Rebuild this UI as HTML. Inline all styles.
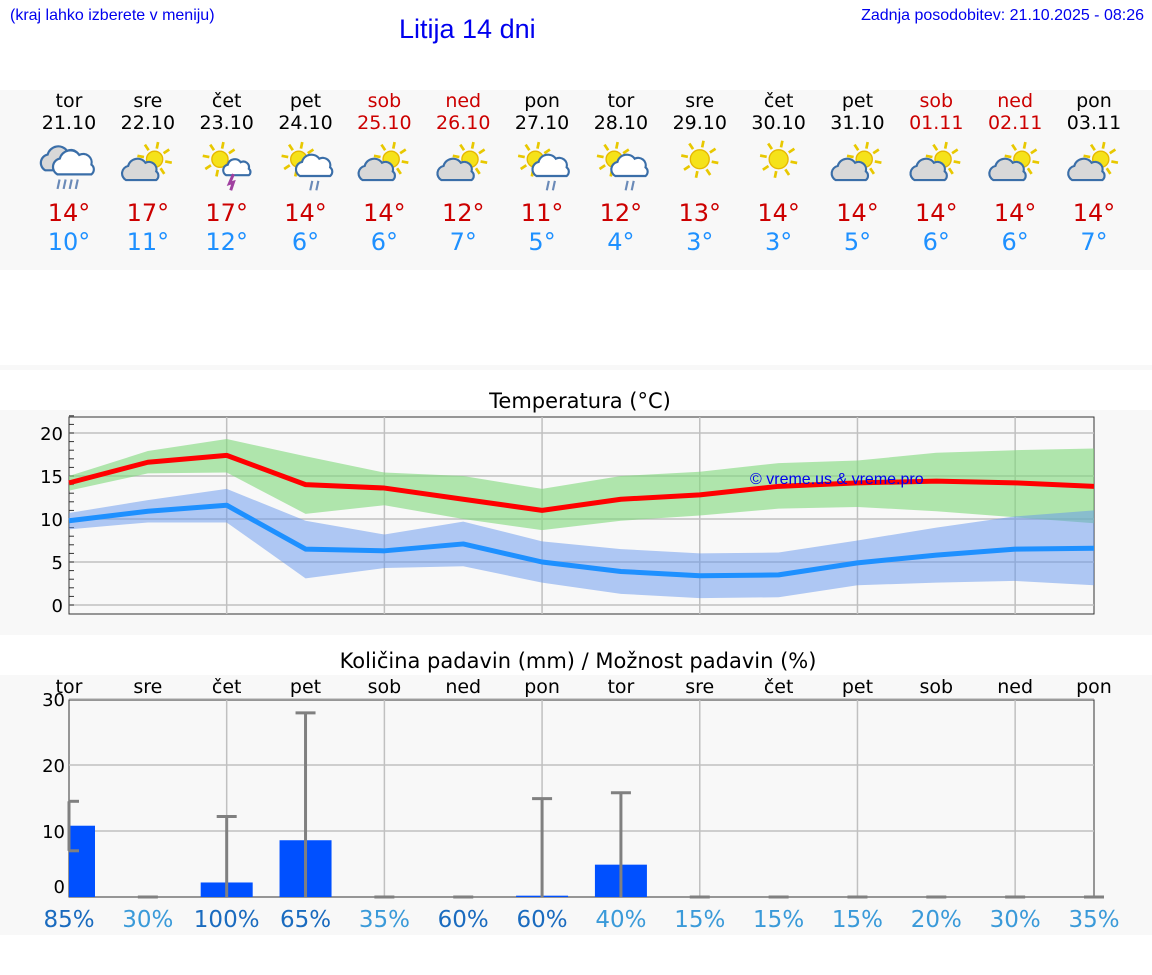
<!DOCTYPE html>
<html><head><meta charset="utf-8">
<style>
body{margin:0;width:1152px;height:975px;background:#fff;font-family:"DejaVu Sans","Liberation Sans",sans-serif;position:relative;overflow:hidden}
.abs{position:absolute}
.band{position:absolute;left:0;width:1152px;background:#f8f8f8}
.hdr{font-family:"Liberation Sans",sans-serif;color:#0000ee;font-size:16px}
</style></head><body>
<div class="band" style="top:90px;height:180px"></div>
<div class="band" style="top:365px;height:5px"></div>
<div class="band" style="top:410px;height:225px"></div>
<div class="band" style="top:675px;height:260px"></div>
<div class="abs hdr" style="left:10px;top:7px">(kraj lahko izberete v meniju)</div>
<div class="abs hdr" style="right:8px;top:7px">Zadnja posodobitev: 21.10.2025 - 08:26</div>
<div class="abs" style="left:399px;top:14px;font-family:'Liberation Sans',sans-serif;font-size:27px;color:#0000ee">Litija 14 dni</div>
<svg id="svg" class="abs" style="left:0;top:0" width="1152" height="975"></svg>
<script>
const dayNames=["tor","sre","čet","pet","sob","ned","pon","tor","sre","čet","pet","sob","ned","pon"];
const dates=["21.10","22.10","23.10","24.10","25.10","26.10","27.10","28.10","29.10","30.10","31.10","01.11","02.11","03.11"];
const weekend=[0,0,0,0,1,1,0,0,0,0,0,1,1,0];
const icons=["rain","partly","thunder","sunrain","partly","partly","sunrain","sunrain","sun","sun","partly","partly","partly","partly"];
const tMax=[14.2,16.6,17.4,14.0,13.6,12.3,11.0,12.3,12.8,13.8,14.2,14.4,14.2,13.8];
const tMaxLo=[13.3,15.3,15.4,10.6,11.6,10.0,8.7,9.8,10.4,11.2,11.4,10.9,10.2,9.5];
const tMaxHi=[15.0,17.9,19.3,17.3,15.4,15.0,13.5,15.0,15.5,16.5,16.8,17.7,18.0,18.2];
const tMin=[9.8,10.9,11.6,6.5,6.3,7.1,5.0,3.9,3.4,3.5,4.9,5.8,6.5,6.6];
const tMinLo=[8.8,9.6,9.6,3.1,4.3,4.5,2.6,1.3,0.8,0.9,2.3,2.6,2.8,2.3];
const tMinHi=[10.7,12.2,13.5,9.8,8.2,9.7,7.4,6.5,6.0,6.1,7.5,9.0,10.3,11.0];
const dispMax=[14,17,17,14,14,12,11,12,13,14,14,14,14,14];
const dispMin=[10,11,12,6,6,7,5,4,3,3,5,6,6,7];
const precip=[10.8,0,2.2,8.6,0,0,0.2,4.9,0,0,0,0,0,0];
const precipLo=[7.0,0,0,0,0,0,0,0,0,0,0,0,0,0];
const precipHi=[14.5,0,12.2,27.9,0,0,14.9,15.8,0,0,0,0,0,0];
const chance=[85,30,100,65,35,60,60,40,15,15,15,20,30,35];
const tTicks=[0,5,10,15,20];
const pTicks=[0,10,20,30];

const NS="http://www.w3.org/2000/svg";
const svg=document.getElementById('svg');
function el(tag,attrs,parent){const e=document.createElementNS(NS,tag);for(const k in attrs)e.setAttribute(k,attrs[k]);(parent||svg).appendChild(e);return e;}
function txt(x,y,s,size,fill,anchor,name){const t=el('text',{x:x,y:y,'font-size':size,fill:fill,'text-anchor':anchor||'middle','font-family':'DejaVu Sans, sans-serif'});t.textContent=s;return t;}
const X0=69,X1=1094,N=14;
const xd=i=>X0+i*(X1-X0)/(N-1);
const ty=v=>605-v*8.6;
const py=v=>897-v*6.6;
const GRID='#c0c0c0';

for(let i=0;i<N;i++){
  const x=xd(i);const c=weekend[i]?'#cc0000':'#000';
  txt(x,107,dayNames[i],19,c,'middle','day-name');
  txt(x,129,dates[i],19,c,'middle','day-date');
  txt(x,221,dispMax[i]+'°',24,'#cc0000','middle','max-temp');
  txt(x,250,dispMin[i]+'°',24,'#1e90ff','middle','min-temp');
  const g=el('g',{transform:`translate(${x},166) scale(1.35)`});
  
  
  drawIcon(g,icons[i]);
}
function sun(g,cx,cy,r){
  for(let k=0;k<8;k++){const a=k*Math.PI/4+0.2;el('line',{x1:cx+Math.cos(a)*(r+2),y1:cy+Math.sin(a)*(r+2),x2:cx+Math.cos(a)*(r+7),y2:cy+Math.sin(a)*(r+7),stroke:'#e8c800','stroke-width':2},g);}
  el('circle',{cx:cx,cy:cy,r:r,fill:'#f5e21a',stroke:'#e6b800','stroke-width':1},g);
}
function cloud(g,cx,cy,s,fill){
  const p=`M${cx-14*s},${cy+8*s} a${7*s},${7*s} 0 0 1 ${2*s},${-13*s} a${9*s},${9*s} 0 0 1 ${16*s},${-3*s} a${7*s},${7*s} 0 0 1 ${10*s},${8*s} a${5*s},${5*s} 0 0 1 ${0},${8*s} z`;
  el('path',{d:p,fill:fill,stroke:'#3a6ea8','stroke-width':1.6},g);
}
function rain(g,cx,cy,n){for(let k=0;k<n;k++)el('line',{x1:cx+k*4.5,y1:cy,x2:cx+k*4.5-1.5,y2:cy+7,stroke:'#6a8ab8','stroke-width':1.6},g);}
function drawIcon(g,t){
  if(t=='rain'){cloud(g,-5,-4,0.9,'#d8d8d8');cloud(g,4,-1,0.9,'#fff');rain(g,-7,10,4);}
  else if(t=='partly'){sun(g,5,-5,6);cloud(g,-5,4,0.8,'#d8d8d8');}
  else if(t=='thunder'){sun(g,-5,-5,6);cloud(g,8,2,0.6,'#fff');el('path',{d:'M5,6 L2,13 L5,12 L3,18',stroke:'#a040a0','stroke-width':2.2,fill:'none'},g);}
  else if(t=='sunrain'){sun(g,-5,-5,6);cloud(g,7,1,0.8,'#fff');rain(g,5,11,2);}
  else sun(g,0,-5,7);
}

txt(580,408,'Temperatura (°C)',21,'#000','middle','temp-chart-title');
el('rect',{x:X0,y:417,width:X1-X0,height:197,fill:'#f8f8f8',stroke:'#333','stroke-width':1});
tTicks.forEach(v=>{el('line',{x1:X0,x2:X1,y1:ty(v),y2:ty(v),stroke:GRID,'stroke-width':1.5});
  txt(63,ty(v)+7,String(v),18,'#000','end','temp-y-tick');});
for(let v=0;v<=22;v++)el('line',{x1:X0,x2:X0+5,y1:ty(v),y2:ty(v),stroke:'#333','stroke-width':1});
for(let i=2;i<N-1;i+=2)el('line',{x1:xd(i),x2:xd(i),y1:417,y2:614,stroke:GRID,'stroke-width':1.5});
function band(lo,hi,fill,op,name){let d='';for(let i=0;i<N;i++)d+=(i?'L':'M')+xd(i)+','+ty(hi[i]);for(let i=N-1;i>=0;i--)d+='L'+xd(i)+','+ty(lo[i]);const p=el('path',{d:d+'Z',fill:fill,'fill-opacity':op});}
band(tMaxLo,tMaxHi,'#7ed87a',0.6,'max-temp-range');
band(tMinLo,tMinHi,'#6495ed',0.5,'min-temp-range');
function line(vals,col,name){const p=el('polyline',{points:vals.map((v,i)=>xd(i)+','+ty(v)).join(' '),fill:'none',stroke:col,'stroke-width':5,'stroke-linejoin':'round'});}
line(tMax,'#ff0000','max-temp-line');
line(tMin,'#1e90ff','min-temp-line');
const wm=txt(750,484,'© vreme.us & vreme.pro',16,'#0000ee','start','watermark');wm.setAttribute('font-family','Liberation Sans, sans-serif');

txt(578,668,'Količina padavin (mm) / Možnost padavin (%)',21,'#000','middle','precip-chart-title');
el('rect',{x:X0,y:700,width:X1-X0,height:197,fill:'#f8f8f8',stroke:'#333','stroke-width':1});
pTicks.forEach(v=>{if(v>0)el('line',{x1:X0,x2:X1,y1:py(v),y2:py(v),stroke:GRID,'stroke-width':1.5});
  txt(65,(v==0?py(v)-11:py(v))+7,String(v),18,'#000','end','precip-y-tick');});
for(let i=2;i<N-1;i+=2)el('line',{x1:xd(i),x2:xd(i),y1:700,y2:897,stroke:GRID,'stroke-width':1.5});
for(let i=0;i<N;i++){
  const x=xd(i);
  txt(x,693,dayNames[i],19,'#000','middle','precip-day-name');
  if(precip[i]>0){const x0=Math.max(X0,x-26);const r=el('rect',{x:x0,y:py(precip[i]),width:x+26-x0,height:897-py(precip[i]),fill:'#0050ff'});}
  const lo=py(precipLo[i]),hi=py(precipHi[i]);
  el('line',{x1:x,x2:x,y1:lo,y2:hi,stroke:'#808080','stroke-width':3});
  el('line',{x1:Math.max(X0,x-10),x2:x+10,y1:hi,y2:hi,stroke:'#808080','stroke-width':3});
  if(precipLo[i]>0)el('line',{x1:Math.max(X0,x-10),x2:x+10,y1:lo,y2:lo,stroke:'#808080','stroke-width':3});
  txt(x,927,chance[i]+'%',23,chance[i]>=50?'#1a6bbf':'#3a9ad9','middle','precip-chance');
}
</script>
</body></html>
